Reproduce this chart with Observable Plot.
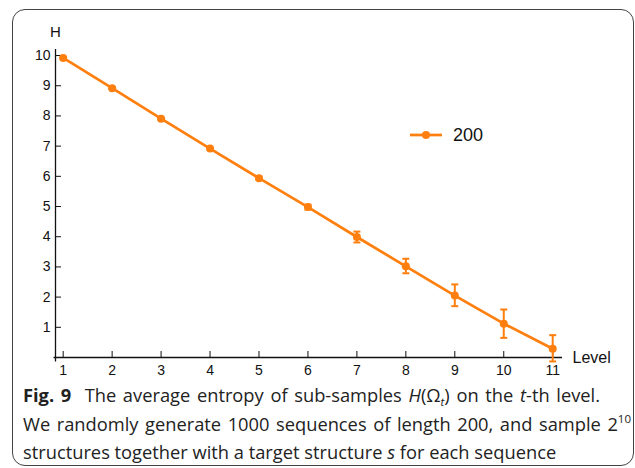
<!DOCTYPE html>
<html>
<head>
<meta charset="utf-8">
<script src="https://cdn.jsdelivr.net/npm/d3@7"></script>
<script src="https://cdn.jsdelivr.net/npm/@observablehq/plot@0.6"></script>
<style>
  html, body { margin: 0; padding: 0; background: #fff; }
  #wrap { position: relative; width: 635px; height: 468px; overflow: hidden; }
  #frame { position: absolute; left: 12px; top: 9px; width: 622px; height: 457px; border: 1.5px solid #444; border-radius: 13px; box-sizing: border-box; }
  #chart { position: absolute; left: 0; top: 0; }
  #caption { position: absolute; left: 23px; top: 382px; font-family: "Open Sans", sans-serif; font-size: 18.3px; line-height: 25.7px; color: #222; }
  #caption .ln { white-space: nowrap; }
  #caption .j { text-align: justify; text-align-last: justify; }
  #caption b { font-weight: 700; }
  #caption .sub { font-size: 11.5px; position: relative; top: 4px; font-style: italic; }
  #caption .sup { font-size: 11.5px; position: relative; top: -8px; }
</style>
</head>
<body>
<div id="wrap">
  <div id="frame"></div>
  <div id="chart"></div>
  <div id="caption">
    <div class="ln j" style="width:577px"><b>Fig. 9</b>&nbsp; The average entropy of sub-samples <i>H</i>(Ω<span class="sub">t</span>) on the <i>t</i>-th level.</div>
    <div class="ln j" style="width:608px">We randomly generate 1000 sequences of length 200, and sample 2<span class="sup">10</span></div>
    <div class="ln">structures together with a target structure <i>s</i> for each sequence</div>
  </div>
</div>
<script>
const levels = [1, 2, 3, 4, 5, 6, 7, 8, 9, 10, 11];
const entropy = [9.92, 8.92, 7.91, 6.92, 5.94, 4.98, 3.99, 3.02, 2.05, 1.12, 0.29];
const errLow = [9.90, 8.90, 7.89, 6.90, 5.89, 4.90, 3.81, 2.79, 1.70, 0.65, -0.13];
const errHigh = [9.94, 8.94, 7.93, 6.94, 5.99, 5.06, 4.17, 3.27, 2.42, 1.59, 0.74];
const xTicks = [1, 2, 3, 4, 5, 6, 7, 8, 9, 10, 11];
const yTicks = [1, 2, 3, 4, 5, 6, 7, 8, 9, 10];
const seriesName = "200";

const data = levels.map((l, i) => ({level: l, h: entropy[i], lo: errLow[i], hi: errHigh[i]}));
const color = "#ff7f0e";
const xDomain = [0.843, 11.2];

const capSymbol = {
  draw(ctx, size) {
    const r = Math.sqrt(size / Math.PI);
    ctx.moveTo(-r, 0);
    ctx.lineTo(r, 0);
  }
};

const plot = Plot.plot({
  width: 635,
  height: 386,
  marginLeft: 55,
  marginTop: 49,
  marginBottom: 29,
  marginRight: 73,
  style: {fontFamily: "'Liberation Sans', Arial, sans-serif", fontSize: "14px", color: "#111", background: "transparent"},
  x: {domain: xDomain},
  y: {domain: [0, 10.2]},
  marks: [
    Plot.ruleY([0], {x1: xDomain[0] - 0.03, x2: xDomain[1], stroke: "#111", strokeWidth: 1.3}),
    Plot.ruleX([xDomain[0]], {y1: -0.15, y2: 10.2, stroke: "#111", strokeWidth: 1.3}),
    Plot.axisX(xTicks, {tickSize: -6, tickPadding: 14, stroke: "#111", fontSize: 14, fill: "#111", label: null}),
    Plot.axisY(yTicks, {tickSize: -6, tickPadding: 11, stroke: "#111", fontSize: 14, fill: "#111", label: null}),
    Plot.text(["H"], {x: xDomain[0], y: 10.2, dy: -17, text: d => d, fontSize: 15, fill: "#111"}),
    Plot.text(["Level"], {x: xDomain[1], y: 0, dx: 10, text: d => d, textAnchor: "start", fontSize: 16, fill: "#111"}),
    Plot.ruleX(data, {x: "level", y1: "lo", y2: "hi", stroke: color, strokeWidth: 2}),
    Plot.dot(data, {x: "level", y: "lo", symbol: capSymbol, r: 3.5, stroke: color, strokeWidth: 2, fill: "none"}),
    Plot.dot(data, {x: "level", y: "hi", symbol: capSymbol, r: 3.5, stroke: color, strokeWidth: 2, fill: "none"}),
    Plot.line(data, {x: "level", y: "h", stroke: color, strokeWidth: 2.7}),
    Plot.dot(data, {x: "level", y: "h", r: 4, fill: color, stroke: "none"})
  ]
});
document.getElementById("chart").appendChild(plot);

const leg = d3.select("#chart").append("svg")
  .attr("width", 120).attr("height", 30)
  .style("position", "absolute").style("left", "405px").style("top", "120px");
leg.append("line").attr("x1", 5).attr("x2", 37).attr("y1", 15).attr("y2", 15)
  .attr("stroke", color).attr("stroke-width", 2.7);
leg.append("circle").attr("cx", 21).attr("cy", 15).attr("r", 4).attr("fill", color);
leg.append("text").attr("x", 48).attr("y", 15).attr("dy", "0.35em")
  .attr("font-family", "'Liberation Sans', Arial, sans-serif").attr("font-size", 18).attr("fill", "#111")
  .text(seriesName);
</script>
</body>
</html>
